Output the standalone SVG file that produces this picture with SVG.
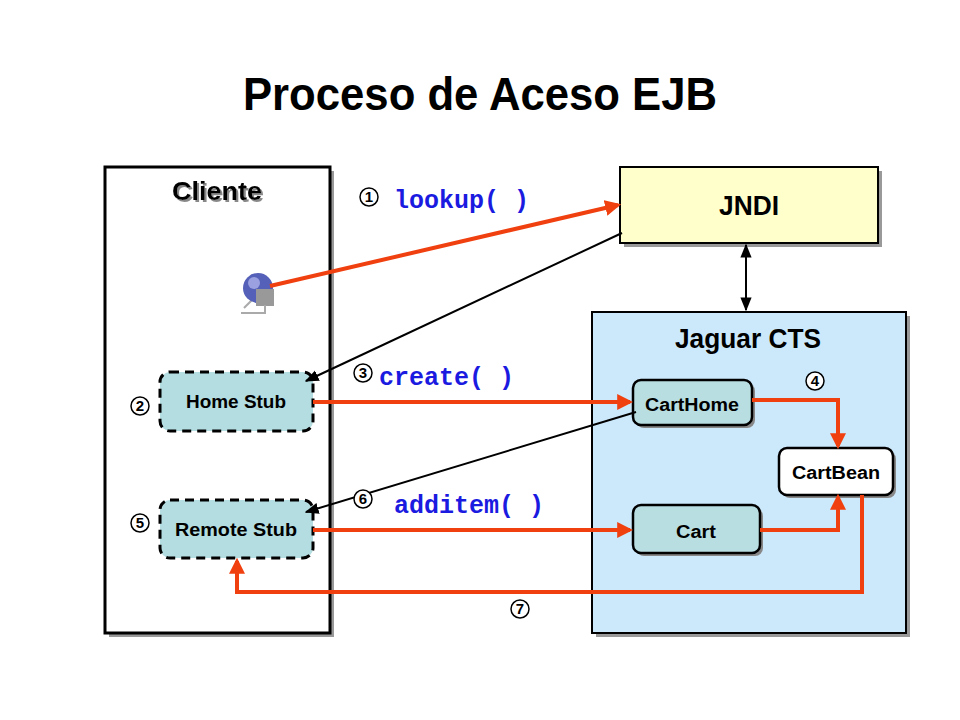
<svg xmlns="http://www.w3.org/2000/svg" width="960" height="720" viewBox="0 0 960 720">
<style>
.t{font-family:"Liberation Sans",Arial,sans-serif;font-weight:bold;text-anchor:middle}
.code{font-family:"Liberation Mono","Courier New",monospace;font-weight:bold;font-size:25px;fill:#1a1ae0}
.num{font-family:"Liberation Sans",Arial,sans-serif;font-size:15px;font-weight:bold;text-anchor:middle}
.red{stroke:#f04010;stroke-width:4;fill:none}
.blk{stroke:#000;stroke-width:2;fill:none}
</style>
<defs>
<marker id="ar" viewBox="0 0 10 10" refX="8" refY="5" markerWidth="4" markerHeight="4" orient="auto"><path d="M0,0L10,5L0,10z" fill="#f04010"/></marker>
<marker id="ab" viewBox="0 0 10 10" refX="9" refY="5" markerWidth="7" markerHeight="7" orient="auto-start-reverse"><path d="M0,1L10,5L0,9z" fill="#000"/></marker>
<filter id="sh" x="-10%" y="-20%" width="130%" height="150%"><feDropShadow dx="2" dy="2" stdDeviation="0.5" flood-color="#888"/></filter>
<g id="circ"><circle r="9" fill="#fff" stroke="#000" stroke-width="1.5"/></g>
</defs>
<rect width="960" height="720" fill="#fff"/>
<text x="480" y="110" class="t" font-size="46" textLength="474" lengthAdjust="spacingAndGlyphs">Proceso de Aceso EJB</text>

<g id="cliente">
<rect x="109" y="171" width="225" height="466" fill="#999"/>
<rect x="105" y="167" width="225" height="466" fill="#fff" stroke="#000" stroke-width="3"/>
<text x="217" y="200" class="t" font-size="25" textLength="90" lengthAdjust="spacingAndGlyphs" filter="url(#sh)">Cliente</text>
</g>
<g id="globe">
<line x1="244" y1="308" x2="270" y2="282" stroke="#aaa" stroke-width="2"/>
<circle cx="258" cy="288" r="15" fill="#5560b8"/>
<circle cx="254" cy="283" r="6" fill="#9aa0e0"/>
<rect x="256" y="289" width="18" height="17" fill="#999"/>
<path d="M241,313H265V305" stroke="#aaa" stroke-width="2" fill="none"/>
</g>
<g id="jndi">
<rect x="624" y="171" width="258" height="76" fill="#999"/>
<rect x="620" y="167" width="258" height="76" fill="#ffffcc" stroke="#000" stroke-width="2"/>
<text x="749" y="215" class="t" font-size="27" textLength="60" lengthAdjust="spacingAndGlyphs">JNDI</text>
</g>
<g id="jaguar">
<rect x="596" y="316" width="314" height="321" fill="#999"/>
<rect x="592" y="312" width="314" height="321" fill="#cce9fb" stroke="#000" stroke-width="2"/>
<text x="748" y="348" class="t" font-size="27" textLength="146" lengthAdjust="spacingAndGlyphs">Jaguar CTS</text>
</g>
<g id="homestub">
<rect x="160" y="372" width="153" height="59" rx="10" fill="#b3dde0" stroke="#000" stroke-width="3" stroke-dasharray="9,6"/>
<text x="236" y="408" class="t" font-size="18" textLength="100" lengthAdjust="spacingAndGlyphs">Home Stub</text>
</g>
<g id="remotestub">
<rect x="160" y="500" width="153" height="58" rx="10" fill="#b3dde0" stroke="#000" stroke-width="3" stroke-dasharray="9,6"/>
<text x="236" y="536" class="t" font-size="18" textLength="122" lengthAdjust="spacingAndGlyphs">Remote Stub</text>
</g>
<g id="carthome">
<rect x="636" y="383" width="119" height="45" rx="8" fill="#888"/>
<rect x="633" y="380" width="119" height="45" rx="8" fill="#b8dee2" stroke="#000" stroke-width="2.5"/>
<text x="692" y="411" class="t" font-size="18" textLength="94" lengthAdjust="spacingAndGlyphs">CartHome</text>
</g>
<g id="cartbean">
<rect x="782" y="451" width="114" height="47" rx="8" fill="#888"/>
<rect x="779" y="448" width="114" height="47" rx="8" fill="#fff" stroke="#000" stroke-width="2.5"/>
<text x="836" y="479" class="t" font-size="18" textLength="88" lengthAdjust="spacingAndGlyphs">CartBean</text>
</g>
<g id="cart">
<rect x="636" y="508" width="127" height="48" rx="8" fill="#888"/>
<rect x="633" y="505" width="127" height="48" rx="8" fill="#b8dee2" stroke="#000" stroke-width="2.5"/>
<text x="696" y="538" class="t" font-size="18" textLength="40" lengthAdjust="spacingAndGlyphs">Cart</text>
</g>

<g id="connectors">
<line x1="746" y1="245" x2="746" y2="310" class="blk" marker-start="url(#ab)" marker-end="url(#ab)"/>
<line x1="270" y1="286" x2="618" y2="205" class="red" marker-end="url(#ar)"/>
<line x1="622" y1="233" x2="306" y2="381" class="blk" marker-end="url(#ab)"/>
<line x1="636" y1="412" x2="306" y2="512" class="blk" marker-end="url(#ab)"/>
<line x1="313" y1="402" x2="630" y2="402" class="red" marker-end="url(#ar)"/>
<line x1="313" y1="530" x2="630" y2="530" class="red" marker-end="url(#ar)"/>
<path d="M752,400H838V446" class="red" marker-end="url(#ar)"/>
<path d="M760,530H838V497" class="red" marker-end="url(#ar)"/>
<path d="M862,495V592H237V561" class="red" marker-end="url(#ar)"/>
</g>

<g id="labels">
<use href="#circ" x="369" y="197"/><text x="369" y="202" class="num">1</text>
<use href="#circ" x="140" y="406"/><text x="140" y="411" class="num">2</text>
<use href="#circ" x="363" y="373"/><text x="363" y="378" class="num">3</text>
<use href="#circ" x="815" y="381"/><text x="815" y="386" class="num">4</text>
<use href="#circ" x="140" y="523"/><text x="140" y="528" class="num">5</text>
<use href="#circ" x="363" y="499"/><text x="363" y="504" class="num">6</text>
<use href="#circ" x="520" y="609"/><text x="520" y="614" class="num">7</text>
<text x="394" y="208" class="code">lookup( )</text>
<text x="379" y="385" class="code">create( )</text>
<text x="394" y="513" class="code">additem( )</text>
</g>
</svg>
